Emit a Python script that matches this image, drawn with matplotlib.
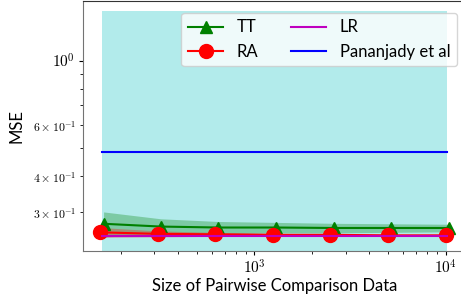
import numpy as np
import matplotlib
matplotlib.use("Agg")
import matplotlib.pyplot as plt

plt.rcParams['mathtext.fontset'] = 'cm'
plt.rcParams['font.family'] = ['Lato', 'DejaVu Sans']

# sample sizes (each method plotted at slightly shifted x)
n_ra = [156, 312, 625, 1250, 2500, 5000, 10000]
n_lr = [159, 318, 637, 1275, 2550, 5100, 10200]
n_tt = [163, 325, 650, 1300, 2600, 5200, 10400]

# mean MSE and band limits
tt_mse = [0.274, 0.268, 0.266, 0.266, 0.265, 0.265, 0.265]
tt_hi = [0.301, 0.285, 0.279, 0.277, 0.275, 0.274, 0.273]
tt_lo = [0.247, 0.251, 0.253, 0.255, 0.255, 0.256, 0.257]

ra_mse = [0.256, 0.253, 0.252, 0.251, 0.251, 0.250, 0.250]
ra_hi = [0.266, 0.259, 0.256, 0.254, 0.253, 0.252, 0.251]
ra_lo = [0.246, 0.247, 0.248, 0.248, 0.249, 0.248, 0.249]

lr_mse = [0.249, 0.249, 0.249, 0.249, 0.249, 0.249, 0.249]
lr_hi = [0.251, 0.251, 0.251, 0.251, 0.251, 0.251, 0.251]
lr_lo = [0.246, 0.246, 0.246, 0.246, 0.246, 0.246, 0.246]

pan_mse = [0.484, 0.484, 0.484, 0.484, 0.484, 0.484, 0.484]
pan_hi = [1.48, 1.48, 1.48, 1.48, 1.48, 1.48, 1.48]
pan_lo = [0.01, 0.01, 0.01, 0.01, 0.01, 0.01, 0.01]

fig = plt.figure(figsize=(4.61, 3.03), dpi=100)
ax = fig.add_axes([0.179, 0.172, 0.832, 0.826])

ax.fill_between(n_lr, pan_lo, pan_hi, color='c', alpha=0.3, lw=0)
ax.fill_between(n_tt, tt_lo, tt_hi, color='g', alpha=0.3, lw=0)
ax.fill_between(n_ra, ra_lo, ra_hi, color='r', alpha=0.3, lw=0)
ax.fill_between(n_lr, lr_lo, lr_hi, color='m', alpha=0.3, lw=0)

ax.plot(n_tt, tt_mse, color='g', marker='^', markersize=9, lw=1.5, label='TT')
ax.plot(n_ra, ra_mse, color='r', marker='o', markersize=10, lw=1.5, label='RA')
ax.plot(n_lr, lr_mse, color='m', lw=1.5, label='LR')
ax.plot(n_lr, pan_mse, color='b', lw=1.5, label='Pananjady et al')

ax.set_xscale('log')
ax.set_yscale('log')
ax.set_xlim(126.5, 12800)
ax.set_ylim(0.221, 1.608)

ax.set_xticks([1000, 10000], [r'$10^{3}$', r'$10^{4}$'])
ax.set_yticks([1.0], [r'$10^{0}$'])
ax.set_yticks([0.3, 0.4, 0.5, 0.6, 0.7, 0.8, 0.9],
              [r'$3\times10^{-1}$', r'$4\times10^{-1}$', '', r'$6\times10^{-1}$', '', '', ''],
              minor=True)
ax.tick_params(axis='both', which='major', labelsize=11, length=3, pad=2.5)
ax.tick_params(axis='both', which='minor', length=2)
ax.tick_params(axis='y', which='minor', labelsize=8.5, pad=2.5)

ax.spines['left'].set_color('0.45')
ax.spines['bottom'].set_color('0.45')
ax.spines['top'].set_color('0.2')

ax.set_xlabel('Size of Pairwise Comparison Data', fontsize=12, labelpad=1)
ax.set_ylabel('MSE', fontsize=12, labelpad=6)
ax.legend(ncol=2, loc='upper right', fontsize=12, handlelength=2.1,
          handletextpad=0.8, columnspacing=2.0, borderaxespad=0,
          bbox_to_anchor=(457 / 461, 1 - 12.7 / 303), bbox_transform=fig.transFigure)

fig.savefig('out.png', dpi=100)
